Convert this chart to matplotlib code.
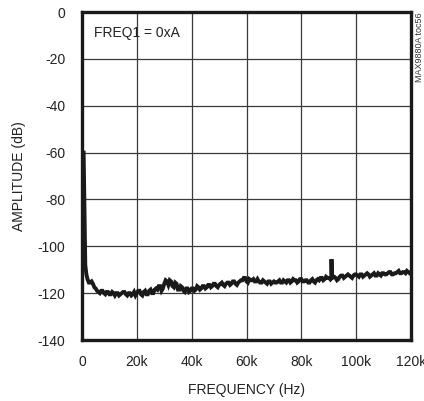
import matplotlib
matplotlib.use("Agg")
import matplotlib.pyplot as plt
import numpy as np

plt.rcParams['font.family'] = ['Liberation Sans', 'DejaVu Sans']
plt.rcParams['axes.unicode_minus'] = False

# Low-frequency fundamental region (Hz, dB)
low_freq = [0, 600, 1200, 1600]
low_amp = [-60, -60, -108, -112]

# Noise floor, 2 kHz to 120 kHz in 1 kHz steps (dB)
floor_freq = list(range(2000, 120001, 1000))
floor_amp = [
    -114, -115.5, -116, -118, -119.5, -119, -120, -119.5, -120.5, -119.5,   # 2k-11k
    -121, -120, -120.5, -119.5, -120.5, -120, -121, -119.5, -120, -119,     # 12k-21k
    -121, -119, -120.5, -118.5, -120, -118, -117, -119, -116, -115,         # 22k-31k
    -114.5, -117, -115.5, -118.5, -117, -119, -118, -119.5, -118, -119,     # 32k-41k
    -117, -118.5, -117, -118, -116.5, -117.5, -116, -117, -116.5, -115.5,   # 42k-51k
    -117, -115.5, -116.5, -115, -116, -115.5, -114.5, -113.5, -115, -114,   # 52k-61k
    -114.5, -115, -114, -115.5, -114.5, -115.5, -115, -116, -115, -115.5,   # 62k-71k
    -114.5, -115.5, -115, -114.5, -115.5, -114, -114.5, -115, -114, -115,   # 72k-81k
    -114.5, -115.5, -114, -115.5, -114, -113.5, -114.5, -113, -113.5, -113.5, # 82k-91k
    -113, -114.5, -113, -112.5, -113, -112, -113, -112.5, -112, -113,       # 92k-101k
    -112, -112.5, -111.5, -113, -112, -112.5, -111.5, -112.5, -111.5, -112, # 102k-111k
    -111, -112, -111.5, -111, -111.5, -111, -111.5, -111, -111,             # 112k-120k
]

# Intermediate noise samples, 2.5 kHz to 119.5 kHz (dB)
mid_freq = list(range(2500, 120000, 1000))
mid_amp = [
    -115.5, -115, -117.5, -119, -120, -119, -120.5, -119.5, -120.5, -120,     # 2.5k-11.5k
    -120, -121, -120, -119.5, -121, -120, -120.5, -121, -119, -120.5,         # 12.5k-21.5k
    -119.5, -120.5, -119, -120, -118.5, -118.5, -117, -118, -114.5, -116.5,   # 22.5k-31.5k
    -115, -117.5, -116, -118.5, -117.5, -119.5, -118, -119, -118, -118.5,     # 32.5k-41.5k
    -117.5, -118, -117, -117.5, -116.5, -117, -116, -117.5, -116, -116.5,     # 42.5k-51.5k
    -116, -115.5, -116, -115, -116.5, -115, -114.5, -113.5, -115.5, -114.5,   # 52.5k-61.5k
    -114, -115, -115, -115.5, -115, -116, -115, -115.5, -115.5, -115,         # 62.5k-71.5k
    -115.5, -114.5, -115.5, -114.5, -115, -114.5, -115.5, -114, -115, -114.5, # 72.5k-81.5k
    -115.5, -114.5, -115, -114.5, -114.5, -113.5, -114, -113.5, -114, -113,   # 82.5k-91.5k
    -113.5, -114, -112.5, -113.5, -112.5, -112.5, -113.5, -112, -112.5, -112, # 92.5k-101.5k
    -113, -112, -112, -112.5, -111.5, -112.5, -112, -111.5, -112, -111.5,     # 102.5k-111.5k
    -111, -112, -111.5, -110.5, -111.5, -111, -110.5, -111.5,                 # 112.5k-119.5k
]

# Spur near 91 kHz
spur_freq = [90900, 91000, 91100]
spur_amp = [-113.5, -105.5, -113.5]

freq = np.array(low_freq + floor_freq + mid_freq + spur_freq, dtype=float)
amp = np.array(low_amp + floor_amp + mid_amp + spur_amp, dtype=float)
order = np.argsort(freq, kind='stable')
freq, amp = freq[order], amp[order]

x_ticks = [0, 20000, 40000, 60000, 80000, 100000, 120000]
x_labels = ['0', '20k', '40k', '60k', '80k', '100k', '120k']
y_ticks = [0, -20, -40, -60, -80, -100, -120, -140]

fig = plt.figure(figsize=(4.24, 4.01), dpi=100)
ax = fig.add_axes([82/424, 1-340/401, (411-82)/424, (340-12)/401])

ax.plot(freq, amp, color='#1a1a1a', lw=2.8, solid_joinstyle='miter', zorder=3)

ax.set_xlim(0, 120000)
ax.set_ylim(-140, 0)
ax.set_xticks(x_ticks)
ax.set_xticklabels(x_labels)
ax.set_yticks(y_ticks)
ax.grid(True, color='#3a3a3a', lw=0.9)
ax.tick_params(length=0, labelsize=10, colors='#222222', pad=11)
ax.tick_params(axis='y', pad=12)
for s in ax.spines.values():
    s.set_linewidth(2.4)
    s.set_color('#1a1a1a')

ax.set_xlabel('FREQUENCY (Hz)', fontsize=10, color='#222222', labelpad=10)
ax.set_ylabel('AMPLITUDE (dB)', fontsize=10, color='#222222', labelpad=8)

ax.text(4500, -9, 'FREQ1 = 0xA', fontsize=10, color='#222222', va='center', ha='left')
fig.text(419/424, 1-12/401, 'MAX9880A toc56', rotation=90, fontsize=6.5,
         color='#333333', ha='center', va='top')

fig.savefig('out.png', dpi=100)
